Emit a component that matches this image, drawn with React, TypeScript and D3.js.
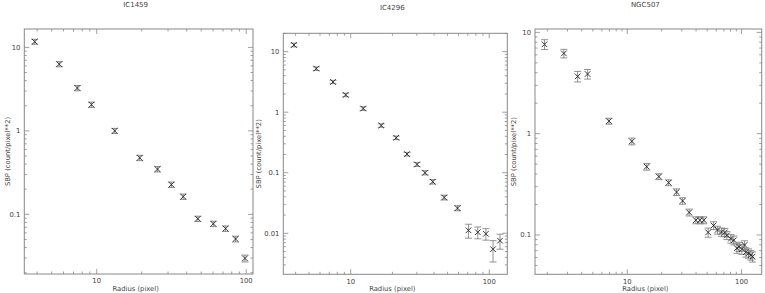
import React from "react";
import * as d3 from "d3";

// ---- data ----
const titles = ["IC1459", "IC4296", "NGC507"];

const r1 = [3.85, 5.62, 7.43, 9.23, 13.2, 19.4, 25.5, 31.6, 37.9, 47.5, 60.3, 72.8, 84.9, 98.1];
const s1 = [11.7, 6.3, 3.26, 2.06, 1.0, 0.475, 0.348, 0.227, 0.163, 0.0886, 0.077, 0.0676, 0.0507, 0.0297];
const e1 = [0.8, 0.45, 0.24, 0.15, 0.07, 0.035, 0.026, 0.017, 0.012, 0.0065, 0.0058, 0.0052, 0.004, 0.0028];

const r2 = [3.89, 5.64, 7.45, 9.2, 12.3, 16.6, 21.3, 25.5, 30.1, 34.4, 39.1, 47.3, 59, 70.8, 82.7, 94.6, 106.5, 119.6];
const s2 = [12.9, 5.25, 3.16, 1.93, 1.15, 0.603, 0.378, 0.203, 0.137, 0.1, 0.071, 0.039, 0.026, 0.0112, 0.0104, 0.0098, 0.00545, 0.00755];
const e2 = [0.9, 0.35, 0.2, 0.13, 0.08, 0.04, 0.025, 0.014, 0.01, 0.008, 0.006, 0.0035, 0.0025, 0.0029, 0.0023, 0.0021, 0.0021, 0.0021];

const r3 = [1.89, 2.79, 3.68, 4.5, 6.92, 10.98, 14.8, 18.9, 23, 27, 30.5, 34.8, 39.8, 43.2, 46.8, 51, 56.9, 61.6, 66.8, 71.4, 74.4, 80.6, 85.6, 91, 95.3, 100.6, 106.2, 109, 115, 120.5, 124.7];
const s3 = [7.62, 6.2, 3.68, 3.88, 1.33, 0.84, 0.472, 0.377, 0.328, 0.265, 0.217, 0.167, 0.14, 0.14, 0.14, 0.106, 0.124, 0.112, 0.107, 0.106, 0.099, 0.092, 0.0887, 0.074, 0.0767, 0.0723, 0.0796, 0.0675, 0.0659, 0.0635, 0.061];
const e3 = [0.85, 0.6, 0.44, 0.42, 0.09, 0.065, 0.036, 0.025, 0.022, 0.02, 0.016, 0.013, 0.011, 0.011, 0.011, 0.011, 0.011, 0.01, 0.01, 0.01, 0.009, 0.009, 0.009, 0.008, 0.008, 0.008, 0.008, 0.007, 0.007, 0.007, 0.007];

const xDomains: [number, number][] = [[3.28, 111], [3.26, 135], [1.56, 150]];
const yDomains: [number, number][] = [[0.0193, 16.6], [0.0021, 20.1], [0.0409, 10.8]];
const xTickLabels = [[10, 100], [10, 100], [10, 100]];
const yTickLabels = [[10, 1, 0.1], [10, 1, 0.1, 0.01], [10, 1, 0.1]];
const xLabel = "Radius (pixel)";
const yLabel = "SBP (count/pixel**2)";

// ---- layout ----
const frames = [
  { l: 24.3, r: 253, t: 29, b: 274, titleY: 7, ylx: 7 },
  { l: 283.3, r: 507.3, t: 33.3, b: 274.3, titleY: 10, ylx: 258 },
  { l: 535, r: 761.7, t: 29, b: 274.3, titleY: 7, ylx: 513 },
];

const FONT = "'DejaVu Sans', sans-serif";
const TXT = "#444";
const FRAME = "#888";

function Panel({ idx, r, s, e }: { idx: number; r: number[]; s: number[]; e: number[] }) {
  const f = frames[idx];
  const x = d3.scaleLog().domain(xDomains[idx]).range([f.l, f.r]);
  const y = d3.scaleLog().domain(yDomains[idx]).range([f.b, f.t]);
  const xt = x.ticks();
  const yt = y.ticks();
  const isMajor = (v: number) => Math.abs(Math.log10(v) - Math.round(Math.log10(v))) < 1e-6;
  const ticks: JSX.Element[] = [];
  xt.forEach((v, i) => {
    const px = x(v);
    const L = isMajor(v) ? 5 : 2.5;
    ticks.push(<line key={"xb" + i} x1={px} x2={px} y1={f.b} y2={f.b - L} />);
    ticks.push(<line key={"xt" + i} x1={px} x2={px} y1={f.t} y2={f.t + L} />);
  });
  yt.forEach((v, i) => {
    const py = y(v);
    const L = isMajor(v) ? 5 : 2.5;
    ticks.push(<line key={"yl" + i} x1={f.l} x2={f.l + L} y1={py} y2={py} />);
    ticks.push(<line key={"yr" + i} x1={f.r} x2={f.r - L} y1={py} y2={py} />);
  });
  const cx = (f.l + f.r) / 2;
  const cy = (f.t + f.b) / 2;
  return (
    <g>
      <text x={cx - 3} y={f.titleY} textAnchor="middle" fontSize={7} fill={TXT} fontFamily={FONT}>
        {titles[idx]}
      </text>
      <rect x={f.l} y={f.t} width={f.r - f.l} height={f.b - f.t} fill="none" stroke={FRAME} strokeWidth={1} />
      <g stroke={FRAME} strokeWidth={0.8}>{ticks}</g>
      {xTickLabels[idx].map((v) => (
        <text key={"xl" + v} x={x(v)} y={f.b + 9.3} textAnchor="middle" fontSize={6.8} fill={TXT} fontFamily={FONT}>
          {v}
        </text>
      ))}
      {yTickLabels[idx].map((v) => (
        <text key={"ylb" + v} x={f.l - 4} y={y(v) + 2.5} textAnchor="end" fontSize={6.8} fill={TXT} fontFamily={FONT}>
          {v}
        </text>
      ))}
      <text x={cx - 3} y={f.b + 16.8} textAnchor="middle" fontSize={6.8} fill={TXT} fontFamily={FONT}>
        {xLabel}
      </text>
      <text
        transform={`translate(${f.ylx + 2.5},${cy}) rotate(-90)`}
        textAnchor="middle"
        fontSize={6.8}
        fill={TXT}
        fontFamily={FONT}
      >
        {yLabel}
      </text>
      {r.map((rv, i) => {
        const px = x(rv);
        const py = y(s[i]);
        const lo = y(Math.max(s[i] - e[i], 1e-6));
        const hi = y(s[i] + e[i]);
        return (
          <g key={"p" + i}>
            <g stroke="#777" strokeWidth={0.8}>
              <line x1={px} x2={px} y1={lo} y2={hi} />
              <line x1={px - 3.5} x2={px + 3.5} y1={lo} y2={lo} />
              <line x1={px - 3.5} x2={px + 3.5} y1={hi} y2={hi} />
            </g>
            <g stroke="#222" strokeWidth={0.9}>
              <line x1={px - 2.8} x2={px + 2.8} y1={py - 2.8} y2={py + 2.8} />
              <line x1={px - 2.8} x2={px + 2.8} y1={py + 2.8} y2={py - 2.8} />
            </g>
          </g>
        );
      })}
    </g>
  );
}

export default function App() {
  return (
    <svg
      width={765}
      height={293}
      style={{ position: "absolute", left: 0, top: 0, background: "#fff" }}
    >
      <rect x={0} y={0} width={765} height={293} fill="#fff" />
      <Panel idx={0} r={r1} s={s1} e={e1} />
      <Panel idx={1} r={r2} s={s2} e={e2} />
      <Panel idx={2} r={r3} s={s3} e={e3} />
    </svg>
  );
}
